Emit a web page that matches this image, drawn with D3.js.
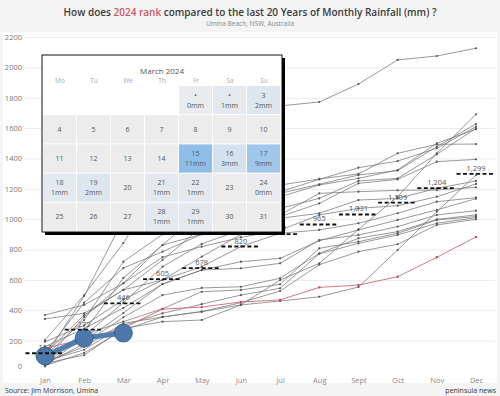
<!DOCTYPE html>
<html lang="en">
<head>
  <meta charset="UTF-8">
  <title>Monthly Rainfall Umina Beach</title>
  <style>
    body { margin: 0; background: #f4f4f4; }
    svg { display: block; font-family: "Open Sans", "Noto Sans", sans-serif; }
  </style>
</head>
<body>
<script src="https://d3js.org/d3.v7.min.js"></script>
<script type="text/javascript">

  // cumulative monthly rainfall (mm), one array per year
  var months = ["Jan", "Feb", "Mar", "Apr", "May", "Jun", "Jul", "Aug", "Sept", "Oct", "Nov", "Dec"];

  var pastYears = [
    [204, 500, 843, 1250, 1550, 1710, 1746, 1772, 1890, 2049, 2075, 2126],
    [60, 160, 314, 356, 391, 435, 599, 709, 933, 1148, 1434, 1691],
    [100, 336, 720, 900, 1000, 1100, 1170, 1230, 1291, 1320, 1478, 1627],
    [369, 435, 578, 830, 1050, 1120, 1181, 1262, 1339, 1383, 1467, 1609],
    [120, 450, 678, 786, 900, 1000, 1071, 1137, 1252, 1269, 1427, 1599],
    [343, 380, 534, 731, 950, 1080, 1148, 1225, 1269, 1324, 1500, 1592],
    [90, 494, 1000, 1100, 1150, 1190, 1225, 1265, 1298, 1434, 1493, 1495],
    [40, 260, 613, 830, 900, 960, 1017, 1104, 1236, 1262, 1379, 1394],
    [50, 105, 280, 325, 336, 435, 461, 489, 553, 797, 1049, 1291],
    [30, 230, 450, 687, 837, 930, 1006, 1039, 1126, 1137, 1203, 1252],
    [70, 356, 578, 750, 819, 880, 928, 1028, 1071, 1089, 1148, 1232],
    [193, 300, 470, 600, 753, 900, 1028, 1170, 1181, 1190, 1192, 1210],
    [110, 369, 534, 600, 687, 820, 907, 929, 973, 1039, 1115, 1142],
    [80, 200, 382, 573, 665, 720, 742, 858, 929, 995, 1061, 1135],
    [160, 280, 415, 573, 665, 676, 709, 863, 896, 951, 1028, 1056],
    [45, 180, 354, 500, 547, 555, 611, 775, 874, 918, 999, 1028],
    [100, 240, 325, 410, 522, 534, 571, 808, 852, 907, 995, 1017],
    [65, 140, 300, 380, 440, 500, 545, 771, 841, 896, 973, 1010],
    [35, 120, 270, 356, 391, 450, 527, 700, 786, 835, 962, 999]
  ];
  var redYear = [150, 210, 283, 408, 421, 455, 468, 551, 566, 621, 749, 883];
  var year2024 = [99, 217, 250];
  var monthAverage = [117, 272, 446, 605, 678, 820, 902, 965, 1031, 1109, 1204, 1299];
  var yTicks = [0, 200, 400, 600, 800, 1000, 1200, 1400, 1600, 1800, 2000, 2200];

  // March 2024 daily rainfall
  var weekDays = ["Mo", "Tu", "We", "Th", "Fr", "Sa", "Su"];
  var rainDays = [1, 2, 3, 15, 16, 17, 18, 19, 21, 22, 24, 28, 29];
  var rainMm = [0, 1, 2, 11, 3, 9, 1, 2, 1, 1, 0, 1, 1];
  var dotDays = [1, 2];

  var W = 500, H = 396;

  var svg = d3.select("body")
    .append("svg")
    .attr("width", W)
    .attr("height", H);

  svg.append("rect").attr("width", W).attr("height", H).attr("fill", "#f4f4f4");
  svg.append("rect")
    .attr("x", 3).attr("y", 32)
    .attr("width", 494).attr("height", 351)
    .attr("fill", "#fff");

  // title
  var title = svg.append("text")
    .attr("x", 250).attr("y", 16)
    .attr("text-anchor", "middle")
    .attr("font-size", "10px")
    .attr("font-weight", 600)
    .attr("fill", "#3b3b3b");
  title.append("tspan").text("How does ");
  title.append("tspan").attr("fill", "#c9575f").text("2024 rank");
  title.append("tspan").text(" compared to the last 20 Years of Monthly Rainfall (mm) ?");

  svg.append("text")
    .attr("x", 250).attr("y", 25.5)
    .attr("text-anchor", "middle")
    .attr("font-size", "6.5px")
    .attr("fill", "#888")
    .text("Umina Beach, NSW, Australia");

  var x = d3.scalePoint()
    .domain(months)
    .range([45, 476]);

  var y = d3.scaleLinear()
    .domain([0, 2200])
    .range([371, 37]);

  // y grid + labels
  var yAxis = d3.axisLeft(y)
    .tickValues(yTicks)
    .tickFormat(d3.format("d"))
    .tickSize(-470)
    .tickPadding(3);

  var gy = svg.append("g")
    .attr("transform", "translate(25,0)")
    .call(yAxis);
  gy.select(".domain").remove();
  gy.selectAll(".tick line").attr("stroke", "#ececec").attr("stroke-width", 1);
  gy.selectAll(".tick text")
    .attr("fill", "#777")
    .attr("font-size", "7.5px")
    .attr("font-family", "Open Sans, sans-serif")
    .attr("dy", function(d) { return d === 0 ? "-0.3em" : "0.32em"; });
  gy.selectAll(".tick").filter(function(d) { return d === 0; }).select("line").remove();

  var gx = svg.append("g")
    .attr("transform", "translate(0,373)")
    .call(d3.axisBottom(x).tickSize(0).tickPadding(5));
  gx.select(".domain").remove();
  gx.selectAll(".tick text")
    .attr("fill", "#888")
    .attr("font-size", "7.5px")
    .attr("font-family", "Open Sans, sans-serif");

  var line = d3.line()
    .x(function(d, i) { return x(months[i]); })
    .y(function(d) { return y(d); });

  // past years
  var past = svg.append("g");
  pastYears.forEach(function(vals) {
    past.append("path")
      .attr("d", line(vals))
      .attr("fill", "none")
      .attr("stroke", "#777")
      .attr("stroke-width", 0.75);
    past.selectAll(null)
      .data(vals)
      .enter()
      .append("circle")
      .attr("cx", function(d, i) { return x(months[i]); })
      .attr("cy", function(d) { return y(d); })
      .attr("r", 1.1)
      .attr("fill", "#555");
  });

  svg.append("path")
    .attr("d", line(redYear))
    .attr("fill", "none")
    .attr("stroke", "#d06870")
    .attr("stroke-width", 0.9);
  svg.selectAll(".redpt")
    .data(redYear)
    .enter()
    .append("circle")
    .attr("class", "redpt")
    .attr("cx", function(d, i) { return x(months[i]); })
    .attr("cy", function(d) { return y(d); })
    .attr("r", 1.2)
    .attr("fill", "#c24f59");

  // 2024
  svg.append("path")
    .attr("d", line(year2024))
    .attr("fill", "none")
    .attr("stroke", "#4f7db0")
    .attr("stroke-width", 5);
  svg.selectAll(".pt2024")
    .data(year2024)
    .enter()
    .append("circle")
    .attr("class", "pt2024")
    .attr("cx", function(d, i) { return x(months[i]); })
    .attr("cy", function(d) { return y(d); })
    .attr("r", 9)
    .attr("fill", "#4c78ab")
    .attr("stroke", "#2c5686")
    .attr("stroke-width", 0.8);

  // monthly average dashes
  var avg = svg.selectAll(".avg")
    .data(monthAverage)
    .enter()
    .append("g")
    .attr("class", "avg");

  avg.append("line")
    .attr("x1", function(d, i) { return x(months[i]) - 19.5; })
    .attr("x2", function(d, i) { return x(months[i]) + 19.5; })
    .attr("y1", function(d) { return y(d); })
    .attr("y2", function(d) { return y(d); })
    .attr("stroke", "#111")
    .attr("stroke-width", 1.8)
    .attr("stroke-dasharray", "4,2.5");

  avg.append("text")
    .attr("x", function(d, i) { return x(months[i]); })
    .attr("y", function(d) { return y(d) - 3; })
    .attr("text-anchor", "middle")
    .attr("font-size", "7.5px")
    .attr("fill", "#555")
    .text(function(d) { return d3.format(",")(d); });

  // calendar popup
  var cal = svg.append("g").attr("transform", "translate(42,55)");
  var calW = 240, calH = 177;
  var colW = 34, rowH = 29.2, gridTop = 31;

  cal.append("rect")
    .attr("x", 3).attr("y", 3)
    .attr("width", calW).attr("height", calH)
    .attr("fill", "#000");
  cal.append("rect")
    .attr("width", calW).attr("height", calH)
    .attr("fill", "#fff")
    .attr("stroke", "#111")
    .attr("stroke-width", 1);

  cal.append("text")
    .attr("x", calW / 2).attr("y", 19)
    .attr("text-anchor", "middle")
    .attr("font-size", "8px")
    .attr("fill", "#555")
    .text("March 2024");

  cal.selectAll(".wd")
    .data(weekDays)
    .enter()
    .append("text")
    .attr("class", "wd")
    .attr("x", function(d, i) { return 1 + i * colW + colW / 2; })
    .attr("y", 28)
    .attr("text-anchor", "middle")
    .attr("font-size", "6.5px")
    .attr("fill", "#aaa")
    .text(function(d) { return d; });

  var rainColor = d3.scaleLinear()
    .domain([0, 2, 11])
    .range(["#e9ebee", "#dde6ef", "#8fbde9"]);

  var cells = d3.range(1, 32).map(function(day) {
    var k = rainDays.indexOf(day);
    return { day: day, pos: day + 3, mm: k >= 0 ? rainMm[k] : null };
  });

  // blank cells before the 1st
  cal.selectAll(".blank")
    .data(d3.range(4))
    .enter()
    .append("rect")
    .attr("class", "blank")
    .attr("x", function(d) { return 1 + d * colW; })
    .attr("y", gridTop)
    .attr("width", colW - 1)
    .attr("height", rowH - 1)
    .attr("fill", "#fff");

  var cell = cal.selectAll(".cell")
    .data(cells)
    .enter()
    .append("g")
    .attr("class", "cell")
    .attr("transform", function(d) {
      return "translate(" + (1 + (d.pos % 7) * colW) + "," + (gridTop + Math.floor(d.pos / 7) * rowH) + ")";
    });

  cell.append("rect")
    .attr("width", colW - 1)
    .attr("height", rowH - 1)
    .attr("fill", function(d) { return d.mm === null ? "#ececec" : rainColor(d.mm); });

  cell.append("text")
    .attr("x", (colW - 1) / 2)
    .attr("y", function(d) { return d.mm === null ? rowH / 2 + 2 : 11.5; })
    .attr("text-anchor", "middle")
    .attr("font-size", "7px")
    .attr("fill", "#555")
    .text(function(d) { return dotDays.indexOf(d.day) >= 0 ? "•" : d.day; });

  cell.filter(function(d) { return d.mm !== null; })
    .append("text")
    .attr("x", (colW - 1) / 2)
    .attr("y", 21.5)
    .attr("text-anchor", "middle")
    .attr("font-size", "7px")
    .attr("fill", "#555")
    .text(function(d) { return d.mm + "mm"; });

  // footer
  svg.append("text")
    .attr("x", 5).attr("y", 393)
    .attr("font-size", "7px")
    .attr("fill", "#333")
    .text("Source: Jim Morrison, Umina");

  svg.append("text")
    .attr("x", 496).attr("y", 393)
    .attr("text-anchor", "end")
    .attr("font-size", "7px")
    .attr("fill", "#333")
    .text("peninsula news");

</script>
</body>
</html>
